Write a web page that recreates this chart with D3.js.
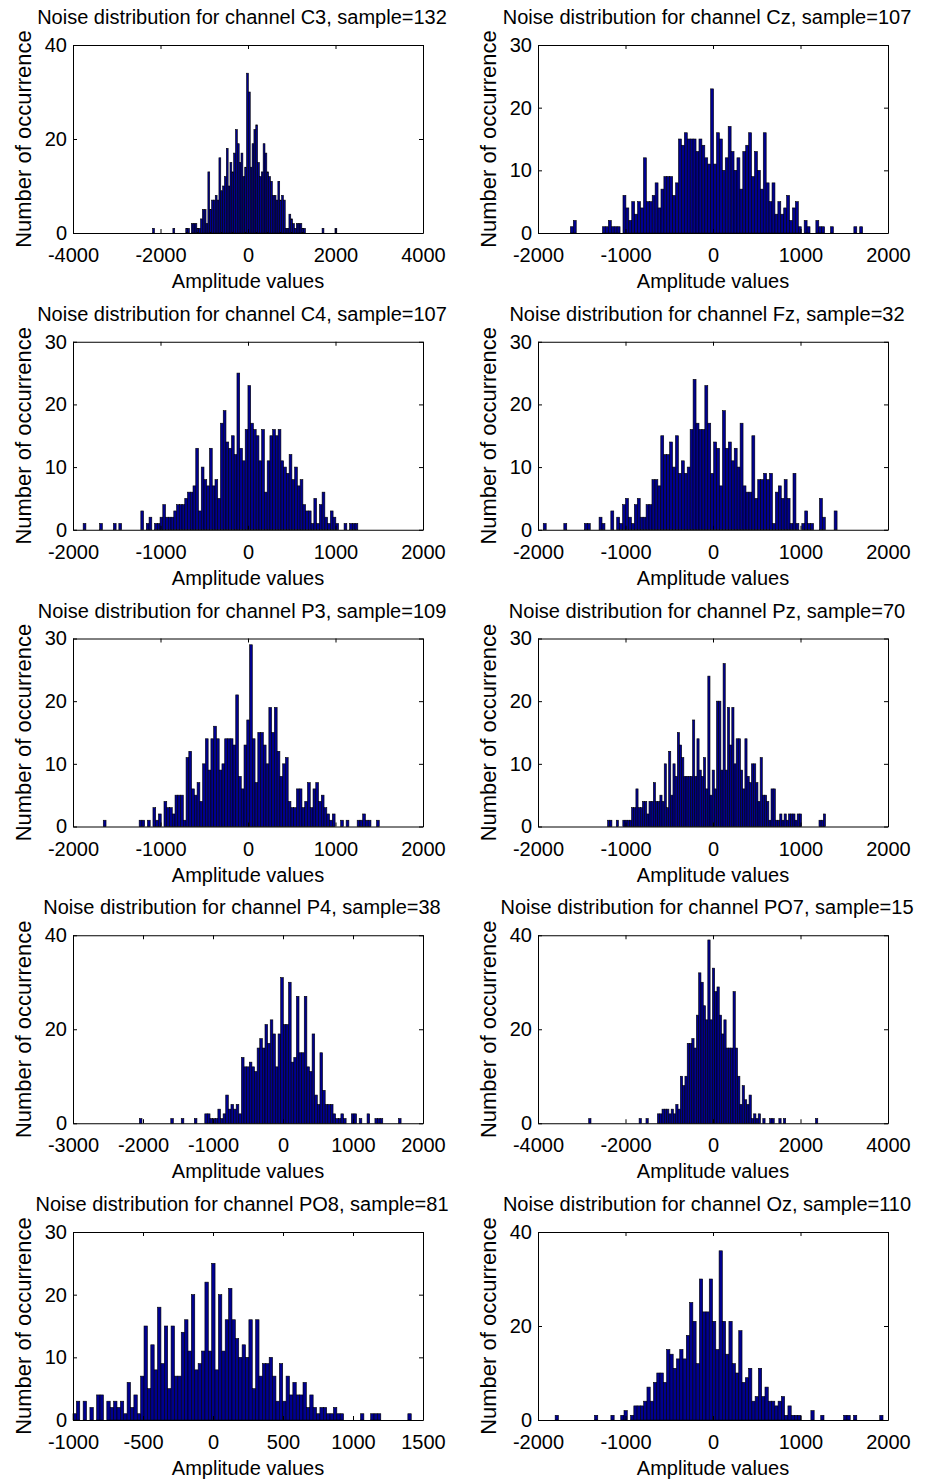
<!DOCTYPE html>
<html>
<head>
<meta charset="utf-8">
<script src="https://cdn.jsdelivr.net/npm/d3@7"></script>
<style>
  body { margin: 0; background: #fff; }
  text { font-family: "Liberation Sans", Arial, sans-serif; fill: #000; }
</style>
</head>
<body>
<div id="chart"></div>
<script>
// ---- data (hist with 100 bins per channel) ----
const channels = ["C3", "Cz", "C4", "Fz", "P3", "Pz", "P4", "PO7", "PO8", "Oz"];
const samples  = [132, 107, 107, 32, 109, 70, 38, 15, 81, 110];

// min / max amplitude of each channel (edges of the first and last bin)
const dataRanges = [
  [-2180, 2030], [-1630, 1710], [-1884, 1255], [-1940, 1418], [-1654, 1500],
  [-1205, 1286], [-2052, 1687], [-2841, 2395], [-1000, 1416], [-1804, 1943]
];

const xDomains = [
  [-4000, 4000], [-2000, 2000], [-2000, 2000], [-2000, 2000], [-2000, 2000],
  [-2000, 2000], [-3000, 2000], [-4000, 4000], [-1000, 1500], [-2000, 2000]
];
const xTickSteps = [2000, 1000, 1000, 1000, 1000, 1000, 1000, 2000, 500, 1000];
const yMax       = [40, 30, 30, 30, 30, 30, 40, 40, 30, 40];
const yTickSteps = [20, 10, 10, 10, 10, 10, 20, 20, 10, 20];

const countsC3 = [
  1,0,0,0,0,0,0,0,0,0,  0,1,0,0,0,0,0,0,1,1,  0,2,2,2,1,1,3,5,5,2,
  13,5,7,7,8,7,16,9,10,12,  18,10,15,13,17,22,19,15,17,12,
  14,34,30,14,19,22,23,15,12,13,  19,17,13,12,11,8,8,7,11,7,
  8,7,1,1,4,3,2,1,2,2,  2,1,1,0,0,0,0,0,0,0,  0,0,1,0,0,0,0,0,0,1
];
const countsCz = [
  1,2,0,0,0,0,0,0,0,0,  0,1,1,2,1,1,1,0,6,4,  2,5,3,5,4,12,5,5,6,8,
  4,7,9,9,9,6,8,15,14,16,  15,15,15,13,15,14,12,11,23,11,
  16,15,10,12,17,13,10,12,7,13,  14,16,9,13,10,7,16,8,5,8,
  3,5,3,4,6,2,4,5,1,0,  2,1,0,0,2,1,1,0,0,1,  0,0,0,0,0,0,0,1,0,1
];
const countsC4 = [
  1,0,0,0,0,0,1,0,0,0,  0,1,0,1,0,0,0,0,0,0,  0,3,0,1,2,0,1,1,2,4,
  2,2,2,3,4,4,4,5,6,6,  7,13,3,10,8,7,13,7,8,5,
  17,19,14,13,15,12,25,13,11,16,  23,17,16,15,11,16,6,11,15,16,
  15,16,11,10,9,12,8,10,7,8,  4,3,3,1,5,1,4,6,2,1,  3,2,1,0,0,1,0,1,1,1
];
const countsFz = [
  1,0,0,0,0,0,0,1,0,0,  0,0,0,0,1,1,0,0,0,2,  1,0,0,3,0,2,1,4,5,2,
  1,4,5,2,2,4,4,8,8,7,  15,12,12,14,10,15,9,11,9,10,
  16,24,17,16,16,23,17,9,14,13,  7,19,13,14,11,13,10,17,7,6,
  6,15,5,8,8,9,8,9,1,6,  7,5,8,5,1,9,1,0,1,3,  1,1,0,0,5,2,0,0,0,3
];
const countsP3 = [
  1,0,0,0,0,0,0,0,0,0,  0,0,0,1,1,0,1,0,3,1,  2,0,4,3,3,2,5,5,5,1,
  11,12,6,5,7,4,10,14,9,14,  16,14,9,10,14,14,14,13,21,8,
  6,13,17,29,14,7,15,15,13,10,  19,15,19,12,8,10,11,4,3,3,
  6,6,3,4,7,3,6,7,4,5,  3,2,1,2,0,0,1,0,1,0,  0,0,1,1,2,1,1,0,0,1
];
const countsPz = [
  1,1,0,0,1,0,0,1,1,1,  1,3,3,6,3,3,4,4,2,4,  4,7,4,4,5,4,10,3,12,5,
  10,8,15,13,11,8,8,8,8,17,  8,14,9,8,11,6,24,5,9,6,
  20,20,9,26,9,19,13,19,10,14,  14,9,6,14,8,7,10,10,7,4,
  11,5,5,4,1,6,6,1,1,2,  1,2,1,2,2,2,1,2,2,0,  0,0,0,0,0,0,0,1,1,2
];
const countsP4 = [
  1,0,0,0,0,0,0,0,0,0,  0,0,1,0,0,0,1,0,0,0,  0,1,0,0,0,2,2,1,1,1,
  3,1,2,6,3,4,3,4,2,14,  12,12,13,12,11,16,18,16,21,17,
  22,19,12,19,31,21,21,30,13,14,  27,15,15,27,12,11,19,6,4,15,
  7,4,4,4,2,1,1,2,1,0,  0,2,2,0,1,0,0,2,0,0,  1,1,1,0,0,0,0,0,0,1
];
const countsPO7 = [
  1,0,0,0,0,0,0,0,0,0,  0,0,0,0,0,0,0,0,0,0,  0,0,1,0,0,1,0,0,0,0,
  2,2,3,3,3,2,3,2,4,3,  10,8,10,17,17,18,16,23,32,30,
  25,22,39,22,33,28,29,23,19,22,  16,16,16,28,16,10,4,8,5,4,
  6,1,2,1,2,0,1,0,0,1,  1,0,0,1,0,1,0,0,0,0,  0,0,0,0,0,0,0,0,0,1
];
const countsPO8 = [
  1,3,0,3,0,2,0,4,4,0,  3,2,3,2,3,1,6,2,4,1,  7,15,5,12,8,18,9,15,5,15,
  7,7,14,16,11,20,8,9,11,22,  11,25,8,20,11,16,21,16,13,10,
  12,10,16,5,16,7,9,9,10,7,  3,9,3,7,4,6,4,4,6,2,
  4,2,1,2,2,1,1,2,1,1,  0,0,0,0,0,1,0,0,1,1,  1,0,0,0,0,0,0,0,0,1
];
const countsOz = [
  1,0,0,0,0,0,0,0,0,0,  0,0,1,0,0,0,0,1,0,0,  1,2,0,1,3,3,3,4,7,4,
  8,10,10,8,15,14,11,13,15,13,  18,25,21,12,30,23,23,30,21,15,
  36,21,14,21,12,10,19,8,9,11,  4,5,11,5,7,4,4,3,4,5,
  1,3,1,1,1,0,0,0,2,0,  0,1,0,0,0,0,0,0,1,1,  0,1,0,0,0,0,0,0,0,1
];
const allCounts = [countsC3, countsCz, countsC4, countsFz, countsP3,
                   countsPz, countsP4, countsPO7, countsPO8, countsOz];

// ---- layout ----
const width = 927, height = 1483;
const colX = [73, 538];
const axW = 350, axH = 188;
const top0 = 45, rowStep = 296.75;
const barFill = "#00008f";

const svg = d3.select("#chart")
  .append("svg")
  .attr("width", width)
  .attr("height", height)
  .attr("viewBox", [0, 0, width, height]);

svg.append("rect").attr("width", width).attr("height", height).attr("fill", "#fff");

channels.forEach((ch, i) => {
  const col = i % 2, row = Math.floor(i / 2);
  const x0 = colX[col], y0 = top0 + row * rowStep;
  const counts = allCounts[i];
  const [lo, hi] = dataRanges[i];
  const nb = counts.length;
  const bw = (hi - lo) / nb;

  const x = d3.scaleLinear().domain(xDomains[i]).range([0, axW]);
  const y = d3.scaleLinear().domain([0, yMax[i]]).range([axH, 0]);
  const xt = d3.range(xDomains[i][0], xDomains[i][1] + 1, xTickSteps[i]);
  const yt = d3.range(0, yMax[i] + 1, yTickSteps[i]);

  const g = svg.append("g").attr("transform", `translate(${x0},${y0})`);

  // bars
  const bins = counts.map((c, k) => ({ x0: lo + k * bw, x1: lo + (k + 1) * bw, c }))
    .filter(d => d.c > 0);
  g.append("g")
    .selectAll("rect")
    .data(bins)
    .join("rect")
      .attr("x", d => x(d.x0))
      .attr("width", d => x(d.x1) - x(d.x0))
      .attr("y", d => y(d.c))
      .attr("height", d => y(0) - y(d.c))
      .attr("fill", barFill)
      .attr("stroke", "#000")
      .attr("stroke-width", 0.6);

  // axes (ticks inward on all four sides, box on)
  const fmt = d => String(d);
  const bottom = g.append("g").attr("transform", `translate(0,${axH})`)
    .call(d3.axisBottom(x).tickValues(xt).tickFormat(fmt)
      .tickSizeInner(-4).tickSizeOuter(0).tickPadding(15));
  const left = g.append("g")
    .call(d3.axisLeft(y).tickValues(yt).tickFormat(fmt)
      .tickSizeInner(-4).tickSizeOuter(0).tickPadding(6));
  g.append("g")
    .call(d3.axisTop(x).tickValues(xt).tickFormat("")
      .tickSizeInner(-4).tickSizeOuter(0));
  g.append("g").attr("transform", `translate(${axW},0)`)
    .call(d3.axisRight(y).tickValues(yt).tickFormat("")
      .tickSizeInner(-4).tickSizeOuter(0));

  g.selectAll(".domain, .tick line").attr("stroke", "#000").attr("stroke-width", 1);
  [bottom, left].forEach(a => a.attr("font-family", null).attr("font-size", null)
    .selectAll("text").style("font-size", "20px").attr("fill", "#000"));

  // title and labels
  g.append("text")
    .attr("x", axW / 2 - 6)
    .attr("y", -21)
    .attr("text-anchor", "middle")
    .style("font-size", "20px")
    .text(`Noise distribution for channel ${ch}, sample=${samples[i]}`);

  g.append("text")
    .attr("x", axW / 2)
    .attr("y", axH + 55)
    .attr("text-anchor", "middle")
    .style("font-size", "20px")
    .text("Amplitude values");

  g.append("text")
    .attr("transform", `translate(-42,${axH / 2}) rotate(-90)`)
    .attr("text-anchor", "middle")
    .style("font-size", "22px")
    .text("Number of occurrence");
});
</script>
</body>
</html>
